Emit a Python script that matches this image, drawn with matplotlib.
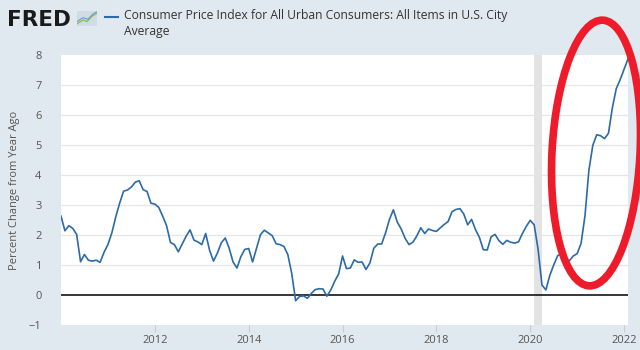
import matplotlib
matplotlib.use("Agg")
import matplotlib.pyplot as plt
from matplotlib.patches import Ellipse, Rectangle
import numpy as np

# Monthly CPI YoY percent change, Jan 2010 - Feb 2022
cpi_2010 = [2.63, 2.14, 2.31, 2.22, 2.02, 1.11, 1.35, 1.16, 1.13, 1.16, 1.09, 1.42]
cpi_2011 = [1.68, 2.07, 2.60, 3.06, 3.46, 3.50, 3.60, 3.76, 3.81, 3.51, 3.45, 3.06]
cpi_2012 = [3.03, 2.92, 2.63, 2.31, 1.75, 1.68, 1.44, 1.70, 1.96, 2.17, 1.83, 1.77]
cpi_2013 = [1.68, 2.05, 1.49, 1.13, 1.40, 1.74, 1.90, 1.56, 1.10, 0.90, 1.28, 1.52]
cpi_2014 = [1.55, 1.10, 1.55, 2.01, 2.16, 2.07, 1.98, 1.71, 1.68, 1.62, 1.35, 0.72]
cpi_2015 = [-0.19, -0.05, -0.03, -0.11, 0.05, 0.18, 0.21, 0.20, -0.04, 0.17, 0.46, 0.70]
cpi_2016 = [1.30, 0.88, 0.90, 1.17, 1.09, 1.10, 0.85, 1.07, 1.56, 1.70, 1.70, 2.07]
cpi_2017 = [2.52, 2.84, 2.43, 2.20, 1.89, 1.68, 1.76, 1.97, 2.24, 2.05, 2.20, 2.15]
cpi_2018 = [2.12, 2.24, 2.35, 2.45, 2.78, 2.85, 2.88, 2.70, 2.34, 2.52, 2.18, 1.92]
cpi_2019 = [1.51, 1.50, 1.94, 2.02, 1.81, 1.69, 1.82, 1.76, 1.73, 1.77, 2.05, 2.29]
cpi_2020 = [2.49, 2.34, 1.53, 0.33, 0.17, 0.65, 1.00, 1.31, 1.38, 1.18, 1.14, 1.30]
cpi_2021 = [1.38, 1.72, 2.64, 4.16, 4.99, 5.34, 5.31, 5.21, 5.39, 6.24, 6.88, 7.18]
cpi_2022 = [7.52, 7.87]

start_year = 2010
recession_start = 2020 + 1 / 12   # Feb 2020
recession_end = 2020 + 3 / 12     # Apr 2020
y_ticks = [-1, 0, 1, 2, 3, 4, 5, 6, 7, 8]
x_ticks = [2012, 2014, 2016, 2018, 2020, 2022]
title = "Consumer Price Index for All Urban Consumers: All Items in U.S. City\nAverage"
ylabel = "Percent Change from Year Ago"

values = (cpi_2010 + cpi_2011 + cpi_2012 + cpi_2013 + cpi_2014 + cpi_2015 + cpi_2016
          + cpi_2017 + cpi_2018 + cpi_2019 + cpi_2020 + cpi_2021 + cpi_2022)
dates = [start_year + i / 12 for i in range(len(values))]

bg = "#e1e9f0"
W, H = 640, 350
fig = plt.figure(figsize=(6.4, 3.5), dpi=100, facecolor=bg)
ax = fig.add_axes([61 / W, 1 - 325 / H, (628 - 61) / W, (325 - 55) / H])
ax.set_facecolor("white")

ax.axvspan(recession_start, recession_end, color="#e3e3e3", lw=0, zorder=1)
for t in y_ticks[2:-1]:
    ax.axhline(t, color="#e6e6e6", lw=0.9, zorder=0.5)
ax.axhline(0, color="black", lw=1.1, zorder=2)
ax.plot(dates, values, color="#2c6aa8", lw=1.2, zorder=3)

ax.set_xlim(dates[0], dates[-1])
ax.set_ylim(-1, 8)
ax.set_yticks(y_ticks)
ax.set_xticks(x_ticks)
for s in ax.spines.values():
    s.set_visible(False)
ax.tick_params(axis="y", length=0, pad=14, labelsize=8, labelcolor="#555555")
ax.tick_params(axis="x", length=5, width=0.8, color="#cccccc", pad=2,
               labelsize=8, labelcolor="#555555")
for lab in ax.get_xticklabels() + ax.get_yticklabels():
    lab.set_family("Open Sans")
ax.set_ylabel(ylabel, fontsize=8, color="#555555", family="Open Sans", labelpad=6)

# FRED logo
fig.text(7 / W, 1 - 26 / H, "FRED", fontsize=15.5, fontweight="bold",
         family="DejaVu Sans", color="#1a1a1a", va="baseline")
icon = fig.add_axes([77 / W, 1 - 26 / H, 20 / W, 15 / H])
icon.set_xlim(0, 1)
icon.set_ylim(0, 1)
icon.axis("off")
icon.add_patch(Rectangle((0, 0), 1, 1, color="#d0dbe6", zorder=0))
icon.plot([0, 0.3, 0.5, 0.75, 1], [0.15, 0.4, 0.3, 0.65, 0.85], color="#8cc63f", lw=1)
icon.plot([0, 0.3, 0.55, 0.8, 1], [0.3, 0.55, 0.45, 0.8, 0.95], color="#6a9bd1", lw=0.8)

# legend line + title
fig.add_artist(plt.Line2D([105 / W, 118 / W], [1 - 17 / H, 1 - 17 / H],
                          color="#2c6aa8", lw=1.5))
fig.text(124 / W, 1 - 9 / H, title, fontsize=8.75, family="Open Sans",
         color="#333333", va="top", linespacing=1.25)

# red ellipse annotation
ell = Ellipse((5.96, 3.5 - 1.53), 0.88, 2.66, angle=-3, fill=False,
              edgecolor="#ee1c2b", lw=5.5, transform=fig.dpi_scale_trans, zorder=10)
fig.add_artist(ell)

fig.savefig("out.png", dpi=100, facecolor=bg)
